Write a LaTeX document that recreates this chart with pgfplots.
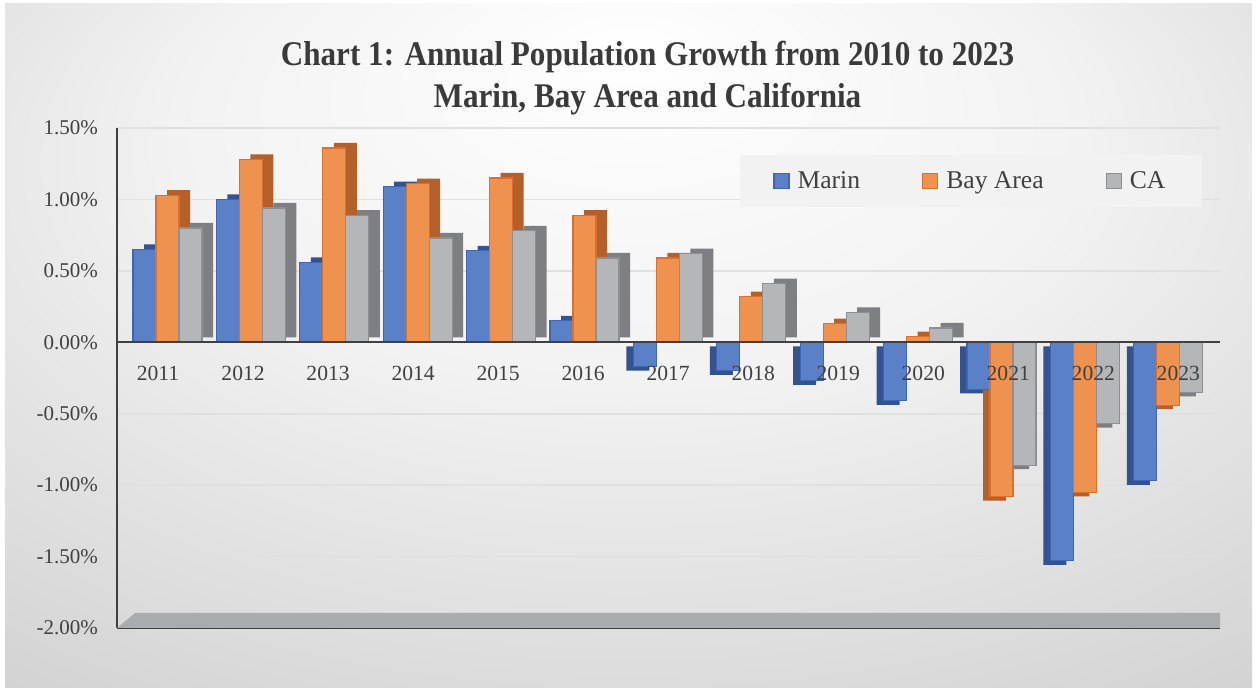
\documentclass[border=0pt]{standalone}
\usepackage{fontspec}
\setmainfont{Liberation Serif}
\newfontfamily\titlefont[FakeStretch=0.9]{Liberation Serif Bold}
\usepackage{pgfplots}
\pgfplotsset{compat=1.18}
\usepackage{pgfplotstable}
\definecolor{txt}{HTML}{404040}
\definecolor{ttl}{HTML}{3A3A3A}
\definecolor{mfront}{HTML}{5A80C8}
\definecolor{mside}{HTML}{34528F}
\definecolor{medge}{HTML}{3F66B3}
\definecolor{bfront}{HTML}{F0924F}
\definecolor{bside}{HTML}{B4602A}
\definecolor{bedge}{HTML}{DE6F28}
\definecolor{cfront}{HTML}{B5B6B9}
\definecolor{cside}{HTML}{7E7F82}
\definecolor{cedge}{HTML}{8E8F92}
\definecolor{floorc}{HTML}{ABACAF}
\definecolor{legbg}{HTML}{F2F2F3}
\pgfdeclareradialshading{bgshade}{\pgfpoint{0bp}{22bp}}{color(0bp)=(white); color(18bp)=(white!95!black); color(40bp)=(white!83!black); color(60bp)=(white!76!black)}

\pgfplotstableread{
x marin bay ca
0 0.65 1.03 0.80
1 1.00 1.28 0.94
2 0.56 1.36 0.89
3 1.09 1.11 0.73
4 0.64 1.15 0.78
5 0.15 0.89 0.59
6 -0.17 0.59 0.62
7 -0.20 0.32 0.41
8 -0.27 0.13 0.21
9 -0.41 0.04 0.10
10 -0.33 -1.08 -0.86
11 -1.53 -1.05 -0.57
12 -0.97 -0.44 -0.35
}\data

\begin{document}
\begin{tikzpicture}
\fill[white] (0,0) rectangle (629pt,347pt);
\shade[shading=bgshade] (2.5pt,3pt) rectangle (626pt,345pt);
\node[font=\titlefont\fontsize{17.3}{21}\selectfont, align=center, text=ttl] at (323.75pt,308pt) {Chart 1: Annual Population Growth from 2010 to 2023\\Marin, Bay Area and California};
\begin{axis}[
  at={(58.5pt,33pt)}, anchor=south west,
  scale only axis, width=551.5pt, height=250pt,
  xmin=-0.606, xmax=12.62, ymin=-2, ymax=1.5,
  axis lines*=left,
  axis line style={txt, line width=1pt},
  major tick length=0pt,
  xtick=\empty,
  ytick={-2,-1.5,-1,-0.5,0,0.5,1,1.5},
  yticklabels={-2.00\%,-1.50\%,-1.00\%,-0.50\%,0.00\%,0.50\%,1.00\%,1.50\%},
  yticklabel style={xshift=-6pt, font=\fontsize{10.5}{12}\selectfont, text=txt},
  /pgf/number format/assume math mode=true,
  ymajorgrids,
  major grid style={white!88!black, line width=0.8pt},
  legend image code/.code={\draw[#1] (0pt,-3.75pt) rectangle (7.5pt,3.75pt);},
  legend style={at={(0.5648,0.946)}, anchor=north west, draw=none, fill=legbg, font=\fontsize{12.8}{14}\selectfont, text=txt, inner xsep=16.5pt, inner ysep=6pt, /tikz/every even column/.append style={column sep=29pt}, /tikz/every odd column/.append style={column sep=2pt}},
  legend columns=-1,
  bar width=11.5pt,
]
\fill[floorc] (rel axis cs:0,0) -- (rel axis cs:1,0) -- (rel axis cs:1,0.03) -- ([xshift=9pt]rel axis cs:0,0.03) -- cycle;
% depth faces (positive: right/up, negative: left/down)
\addplot[ybar, bar shift=-11.5pt, fill=mside, draw=none, forget plot, xshift=5.5pt, yshift=2.5pt, restrict y to domain=0:5] table[x=x,y=marin]{\data};
\addplot[ybar, bar shift=0pt, fill=bside, draw=none, forget plot, xshift=5.5pt, yshift=2.5pt, restrict y to domain=0:5] table[x=x,y=bay]{\data};
\addplot[ybar, bar shift=11.5pt, fill=cside, draw=none, forget plot, xshift=5.5pt, yshift=2.5pt, restrict y to domain=0:5] table[x=x,y=ca]{\data};
\addplot[ybar, bar shift=-11.5pt, fill=mside, draw=none, forget plot, xshift=-3.5pt, yshift=-2pt, restrict y to domain=-5:0] table[x=x,y=marin]{\data};
\addplot[ybar, bar shift=0pt, fill=bside, draw=none, forget plot, xshift=-3.5pt, yshift=-2pt, restrict y to domain=-5:0] table[x=x,y=bay]{\data};
\addplot[ybar, bar shift=11.5pt, fill=cside, draw=none, forget plot, xshift=-3.5pt, yshift=-2pt, restrict y to domain=-5:0] table[x=x,y=ca]{\data};
% front faces
\addplot[ybar, bar shift=-11.5pt, fill=mfront, draw=medge, line width=0.6pt] table[x=x,y=marin]{\data};
\addplot[ybar, bar shift=0pt, fill=bfront, draw=bedge, line width=0.6pt] table[x=x,y=bay]{\data};
\addplot[ybar, bar shift=11.5pt, fill=cfront, draw=cedge, line width=0.6pt] table[x=x,y=ca]{\data};
\draw[txt, line width=1.1pt] (axis cs:-0.606,0) -- (axis cs:12.62,0);
\begin{scope}[every node/.style={font=\fontsize{10.8}{12}\selectfont, text=txt, yshift=-15.5pt}]
\node at (axis cs:-0.114,0) {2011};
\node at (axis cs:0.906,0) {2012};
\node at (axis cs:1.925,0) {2013};
\node at (axis cs:2.945,0) {2014};
\node at (axis cs:3.964,0) {2015};
\node at (axis cs:4.984,0) {2016};
\node at (axis cs:6.003,0) {2017};
\node at (axis cs:7.023,0) {2018};
\node at (axis cs:8.042,0) {2019};
\node at (axis cs:9.062,0) {2020};
\node at (axis cs:10.081,0) {2021};
\node at (axis cs:11.101,0) {2022};
\node at (axis cs:12.120,0) {2023};
\end{scope}
\legend{Marin,Bay Area,CA}
\end{axis}
\end{tikzpicture}
\end{document}
